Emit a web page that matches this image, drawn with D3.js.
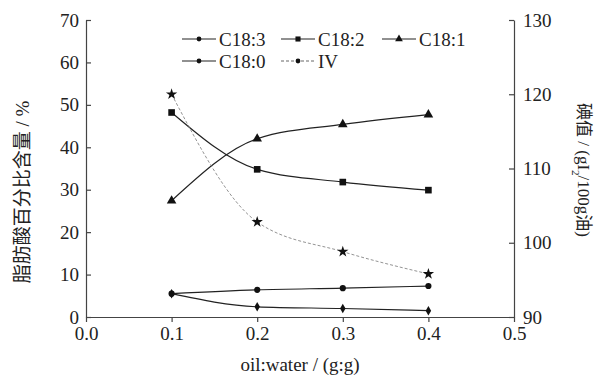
<!DOCTYPE html>
<html>
<head>
<meta charset="utf-8">
<script src="https://cdn.jsdelivr.net/npm/d3@7"></script>
<style>
  body { margin: 0; background: #fff; }
  svg text { font-family: "Liberation Serif", "Noto Sans CJK SC", serif; fill: #222; }
</style>
</head>
<body>
<div id="chart"></div>
<script>
// data
var ratios = [0.1, 0.2, 0.3, 0.4];
var c183 = [5.5, 2.4, 2.0, 1.5];
var c182 = [48.2, 34.8, 31.8, 29.9];
var c181 = [27.4, 42.0, 45.4, 47.7];
var c180 = [5.5, 6.4, 6.8, 7.3];
var iv   = [120.0, 102.8, 98.8, 95.8];

var xTicks = [0, 0.1, 0.2, 0.3, 0.4, 0.5];
var leftTicks = [0, 10, 20, 30, 40, 50, 60, 70];
var rightTicks = [90, 100, 110, 120, 130];

var width = 595, height = 378;
var margin = {top: 20, right: 81, bottom: 61, left: 86};

var svg = d3.select('#chart').append('svg')
  .attr('width', width)
  .attr('height', height);

var x = d3.scaleLinear().domain([0, 0.5]).range([margin.left, width - margin.right]);
var yL = d3.scaleLinear().domain([0, 70]).range([height - margin.bottom, margin.top]);
var yR = d3.scaleLinear().domain([90, 130]).range([height - margin.bottom, margin.top]);

/****************************************
* Axes
*****************************************/

var gx = svg.append('g')
  .attr('transform', 'translate(0,' + (height - margin.bottom) + ')')
  .call(d3.axisBottom(x).tickValues(xTicks).tickFormat(d3.format('.1f'))
    .tickSize(5).tickSizeOuter(0).tickPadding(5));

var gl = svg.append('g')
  .attr('transform', 'translate(' + margin.left + ',0)')
  .call(d3.axisLeft(yL).tickValues(leftTicks).tickSize(-5).tickSizeOuter(0).tickPadding(7));

var gr = svg.append('g')
  .attr('transform', 'translate(' + (width - margin.right) + ',0)')
  .call(d3.axisRight(yR).tickValues(rightTicks).tickSize(-5).tickSizeOuter(0).tickPadding(9));

[gx, gl, gr].forEach(function(g) {
  g.selectAll('text').style('font-size', '19px').attr('fill', '#333');
  g.selectAll('line, path').attr('stroke', '#444').attr('stroke-width', 1.2);
});

// titles
svg.append('text')
  .attr('x', (margin.left + width - margin.right) / 2)
  .attr('y', 371)
  .attr('text-anchor', 'middle')
  .style('font-size', '19px')
  .text('oil:water / (g:g)');

svg.append('text')
  .attr('transform', 'translate(29,192) rotate(-90)')
  .attr('text-anchor', 'middle')
  .style('font-size', '19px')
  .attr('fill', '#666')
  .text('脂肪酸百分比含量 / %');

var rt = svg.append('text')
  .attr('transform', 'translate(578,170) rotate(90)')
  .attr('text-anchor', 'middle')
  .style('font-size', '17px')
  .attr('fill', '#555');
rt.append('tspan').text('碘值 / (gI');
rt.append('tspan').attr('baseline-shift', 'sub').style('font-size', '11px').text('2');
rt.append('tspan').text('/100g油)');

/****************************************
* Series
*****************************************/

var sym = {
  diamond: d3.symbol().type(d3.symbolDiamond).size(26),
  circle: d3.symbol().type(d3.symbolCircle).size(30),
  square: d3.symbol().type(d3.symbolSquare).size(44),
  triangle: d3.symbol().type(d3.symbolTriangle).size(40),
  star: d3.symbol().type(d3.symbolStar).size(40)
};

var series = [
  {name: 'C18:3', values: c183, y: yL, sym: sym.diamond, color: '#222', width: 1.2, dash: null},
  {name: 'C18:2', values: c182, y: yL, sym: sym.square, color: '#222', width: 1.2, dash: null},
  {name: 'C18:1', values: c181, y: yL, sym: sym.triangle, color: '#222', width: 1.2, dash: null},
  {name: 'C18:0', values: c180, y: yL, sym: sym.circle, color: '#222', width: 1.2, dash: null},
  {name: 'IV', values: iv, y: yR, sym: sym.star, color: '#777', width: 0.8, dash: '3,2'}
];

series.forEach(function(s) {
  var pts = ratios.map(function(r, i) { return [r, s.values[i]]; });
  var line = d3.line()
    .x(function(d) { return x(d[0]); })
    .y(function(d) { return s.y(d[1]); })
    .curve(d3.curveMonotoneX);

  svg.append('path')
    .datum(pts)
    .attr('d', line)
    .attr('fill', 'none')
    .attr('stroke', s.color)
    .attr('stroke-width', s.width)
    .attr('stroke-dasharray', s.dash);

  svg.append('g').selectAll('path')
    .data(pts)
    .enter().append('path')
    .attr('d', s.sym)
    .attr('transform', function(d) { return 'translate(' + x(d[0]) + ',' + s.y(d[1]) + ')'; })
    .attr('fill', '#111');
});

/****************************************
* Legend
*****************************************/

var legendPos = [[182, 39], [281, 39], [382, 39], [182, 61], [281, 61]];
var legendSym = d3.symbol().size(18);

series.forEach(function(s, i) {
  var g = svg.append('g')
    .attr('transform', 'translate(' + legendPos[i][0] + ',' + legendPos[i][1] + ')');
  g.append('line')
    .attr('x1', 0).attr('x2', 34)
    .attr('stroke', s.name === 'IV' ? '#555' : '#222')
    .attr('stroke-width', s.name === 'IV' ? 0.9 : 1.2)
    .attr('stroke-dasharray', s.dash);
  g.append('path')
    .attr('d', s.name === 'C18:2' ? d3.symbol().type(d3.symbolSquare).size(26)()
      : s.name === 'C18:1' ? d3.symbol().type(d3.symbolTriangle).size(26)()
      : legendSym())
    .attr('transform', 'translate(17,0)')
    .attr('fill', '#111');
  g.append('text')
    .attr('x', 37)
    .attr('dy', '0.35em')
    .style('font-size', '19px')
    .text(s.name);
});
</script>
</body>
</html>
